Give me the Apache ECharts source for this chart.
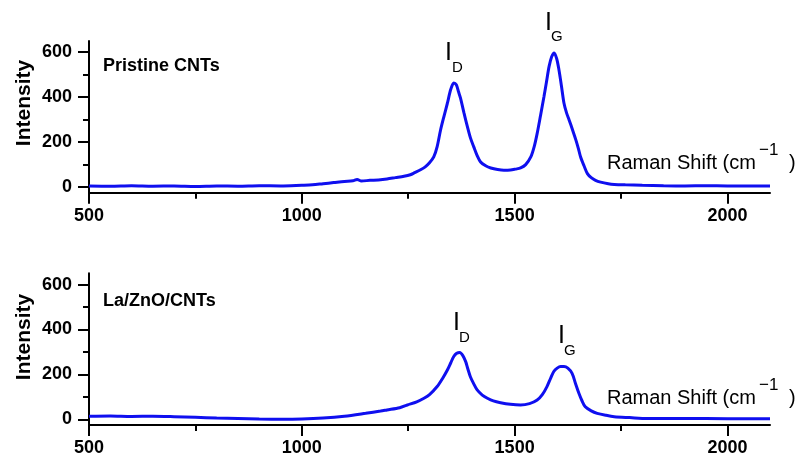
<!DOCTYPE html>
<html>
<head>
<meta charset="utf-8">
<script src="https://cdn.jsdelivr.net/npm/echarts@6/dist/echarts.min.js"></script>
<style>
html, body { margin: 0; padding: 0; background: #fff; }
#chart { width: 800px; height: 457px; }
</style>
</head>
<body>
<div id="chart"></div>
<script>
// Raman spectrum, pristine CNTs (top panel)
var shiftTop = [500, 550, 600, 650, 700, 750, 800, 850, 900, 950, 1000, 1025, 1050, 1075, 1100, 1120, 1130, 1140, 1160, 1180, 1200, 1220, 1240, 1255, 1265, 1280, 1290, 1300, 1310, 1318, 1326, 1334, 1342, 1350, 1357, 1363, 1368, 1373, 1381, 1389, 1396, 1404, 1412, 1420, 1432, 1444, 1460, 1475, 1490, 1502, 1514, 1526, 1538, 1546, 1553, 1561, 1569, 1575, 1581, 1587, 1593, 1599, 1604, 1610, 1616, 1622, 1628, 1636, 1644, 1650, 1655, 1663, 1671, 1680, 1690, 1702, 1720, 1734, 1760, 1800, 1850, 1900, 1950, 2000, 2050, 2100];
var intensityTop = [5, 4, 6, 4, 5, 3, 5, 4, 6, 5, 8, 10, 15, 20, 25, 28, 34, 27, 30, 32, 36, 42, 48, 55, 64, 78, 90, 108, 134, 180, 254, 315, 373, 435, 463, 455, 425, 395, 330, 269, 220, 179, 140, 112, 95, 85, 78, 75, 76, 80, 85, 100, 134, 180, 239, 320, 403, 470, 537, 580, 597, 570, 523, 450, 373, 330, 299, 255, 209, 170, 134, 95, 60, 42, 30, 22, 15, 12, 10, 8, 6, 5, 6, 5, 5, 5];

// Raman spectrum, La/ZnO/CNTs (bottom panel)
var shiftBottom = [500, 550, 600, 650, 700, 750, 800, 850, 900, 950, 1000, 1050, 1100, 1150, 1185, 1200, 1230, 1248, 1270, 1287, 1300, 1318, 1330, 1342, 1350, 1357, 1364, 1371, 1378, 1385, 1390, 1396, 1404, 1412, 1424, 1436, 1450, 1467, 1490, 1514, 1535, 1553, 1565, 1576, 1585, 1592, 1600, 1608, 1616, 1625, 1635, 1643, 1651, 1658, 1666, 1680, 1694, 1715, 1734, 1770, 1812, 1900, 2000, 2100];
var intensityBottom = [14, 15, 13, 14, 12, 9, 6, 4, 2, 1, 2, 6, 14, 27, 37, 42, 52, 64, 78, 94, 110, 146, 180, 220, 252, 280, 294, 298, 285, 257, 225, 190, 158, 131, 108, 94, 82, 74, 67, 64, 70, 86, 110, 146, 185, 213, 228, 235, 235, 228, 205, 160, 116, 84, 56, 38, 27, 18, 12, 8, 4, 4, 3, 3];

// tick labels
var xMajorTicks = [500, 1000, 1500, 2000];
var xMinorTicks = [750, 1250, 1750];
var yMajorTicks = [0, 200, 400, 600];
var yMinorTicks = [100, 300, 500];

var FONT = '"Liberation Sans", Arial, sans-serif';
var BLUE = '#0f0fef';

function pairs(xs, ys) {
  return xs.map(function (x, i) { return [x, ys[i]] })
}

function xAxisOf(gridIndex, minor) {
  return {
    type: 'value',
    gridIndex: gridIndex,
    position: 'bottom',
    min: 500,
    max: 2100,
    axisLine: { show: !minor, onZero: false, lineStyle: { color: '#000', width: 2 } },
    axisTick: {
      show: true,
      length: minor ? 6 : 11,
      customValues: minor ? xMinorTicks : xMajorTicks,
      lineStyle: { color: '#000', width: 2 }
    },
    axisLabel: {
      show: !minor,
      customValues: xMajorTicks,
      formatter: function (v) { return String(v) },
      margin: 14,
      color: '#000',
      fontSize: 18,
      fontWeight: 'bold',
      fontFamily: FONT
    },
    splitLine: { show: false }
  }
}

function yAxisOf(gridIndex, minor) {
  return {
    type: 'value',
    gridIndex: gridIndex,
    position: 'left',
    min: -25,
    max: 650,
    axisLine: { show: !minor, onZero: false, lineStyle: { color: '#000', width: 2 } },
    axisTick: {
      show: true,
      length: minor ? 6 : 11,
      customValues: minor ? yMinorTicks : yMajorTicks,
      lineStyle: { color: '#000', width: 2 }
    },
    axisLabel: {
      show: !minor,
      customValues: yMajorTicks,
      formatter: function (v) { return String(v) },
      margin: 17,
      color: '#000',
      fontSize: 18,
      fontWeight: 'bold',
      fontFamily: FONT
    },
    splitLine: { show: false }
  }
}

function label(x, y, text, size, bold, align) {
  return {
    type: 'text',
    x: x,
    y: y,
    style: {
      text: text,
      fill: '#000',
      font: (bold ? 'bold ' : '') + size + 'px ' + FONT,
      align: align || 'left',
      textAlign: align || 'left',
      verticalAlign: 'middle',
      textVerticalAlign: 'middle'
    }
  }
}

function rotated(x, y, text) {
  var t = label(0, 0, text, 21, true, 'center')
  t.x = x
  t.y = y
  t.rotation = Math.PI / 2
  return t
}

var myChart = echarts.init(document.getElementById('chart'))

var option = {
  animation: false,
  backgroundColor: '#fff',
  grid: [
    { left: 89, right: 30, top: 41, bottom: 264.3 },
    { left: 89, right: 30, top: 273.3, bottom: 32 }
  ],
  xAxis: [xAxisOf(0, false), xAxisOf(0, true), xAxisOf(1, false), xAxisOf(1, true)],
  yAxis: [yAxisOf(0, false), yAxisOf(0, true), yAxisOf(1, false), yAxisOf(1, true)],
  series: [
    {
      name: 'Pristine CNTs',
      type: 'line',
      xAxisIndex: 0,
      yAxisIndex: 0,
      data: pairs(shiftTop, intensityTop),
      showSymbol: false,
      smooth: 0.3,
      lineStyle: { color: BLUE, width: 3 }
    },
    {
      name: 'La/ZnO/CNTs',
      type: 'line',
      xAxisIndex: 2,
      yAxisIndex: 2,
      data: pairs(shiftBottom, intensityBottom),
      showSymbol: false,
      smooth: 0.3,
      lineStyle: { color: BLUE, width: 3 }
    }
  ],
  graphic: [
    rotated(24, 103, 'Intensity'),
    rotated(24, 337, 'Intensity'),
    label(103, 66, 'Pristine CNTs', 18, true),
    label(103, 301, 'La/ZnO/CNTs', 18, true),
    // peak labels
    label(445, 53.5, 'I', 25, false),
    label(452, 67.5, 'D', 15, false),
    label(545, 23, 'I', 25, false),
    label(551, 37, 'G', 15, false),
    label(453, 323.5, 'I', 25, false),
    label(459, 337.5, 'D', 15, false),
    label(558, 336.5, 'I', 25, false),
    label(564, 351, 'G', 15, false),
    // axis titles
    label(607, 163, 'Raman Shift (cm', 20, false),
    label(759, 150, '\u22121', 17, false),
    label(789, 163, ')', 20, false),
    label(607, 398, 'Raman Shift (cm', 20, false),
    label(759, 385, '\u22121', 17, false),
    label(789, 398, ')', 20, false)
  ]
}

myChart.setOption(option)
</script>
</body>
</html>
